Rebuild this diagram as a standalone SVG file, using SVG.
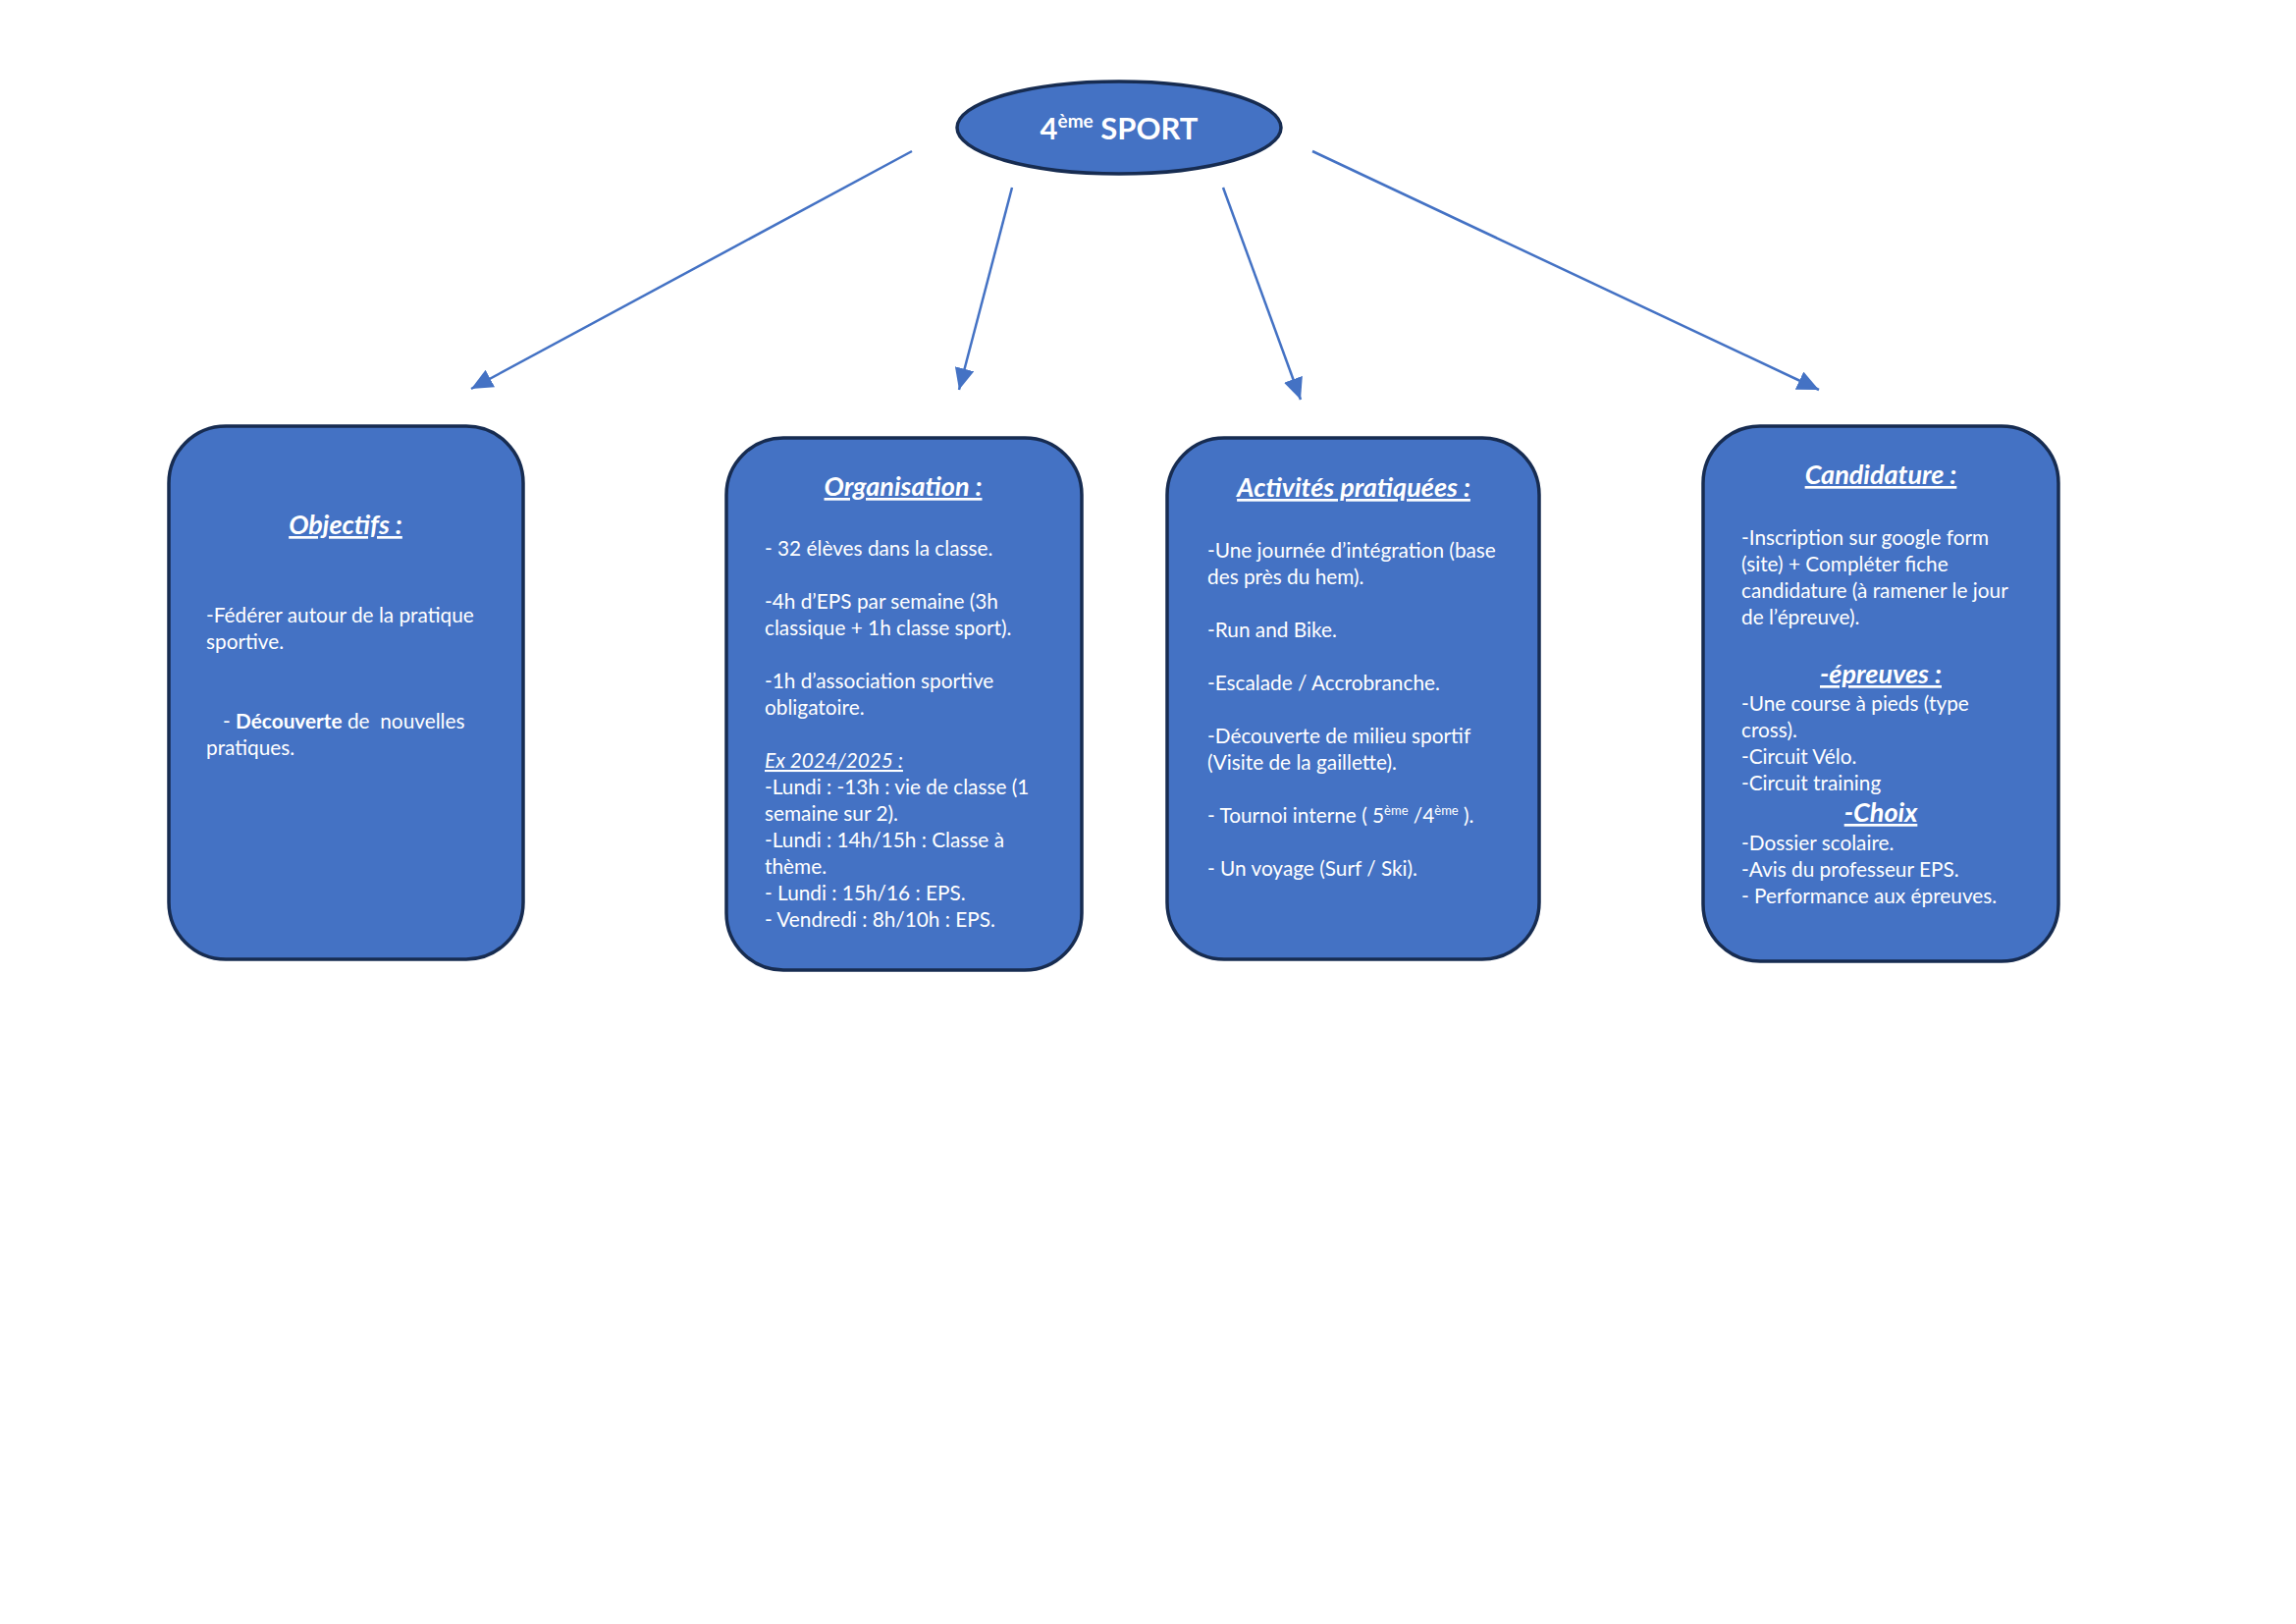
<svg xmlns="http://www.w3.org/2000/svg" width="2339" height="1654" viewBox="0 0 2339 1654">
<style>
.box{fill:#4472C4;stroke:#172C51;stroke-width:3.5}
.t{font-family:Lato,"Open Sans","Liberation Sans",sans-serif;fill:#ffffff;font-size:20.8px}
.h{font-family:Lato,"Open Sans","Liberation Sans",sans-serif;fill:#ffffff;font-size:27px;font-weight:bold;font-style:italic;text-decoration:underline;text-anchor:middle}
.c{stroke:#4472C4;stroke-width:2.5;fill:none;marker-end:url(#ah)}
</style>
<defs>
<marker id="ah" viewBox="0 0 22 20" refX="22" refY="10" markerWidth="22" markerHeight="20" markerUnits="userSpaceOnUse" orient="auto"><path d="M0,0 L22,10 L0,20 Z" fill="#4472C4"/></marker>
</defs>
<rect width="2339" height="1654" fill="#ffffff"/>
<g id="connectors">
<line class="c" x1="929" y1="154" x2="480" y2="396"/>
<line class="c" x1="1031" y1="191" x2="977" y2="397"/>
<line class="c" x1="1246" y1="191" x2="1325" y2="407"/>
<line class="c" x1="1337" y1="154" x2="1853" y2="397"/>
</g>
<g id="root">
<ellipse cx="1140" cy="130" rx="165" ry="47" fill="#4472C4" stroke="#172C51" stroke-width="3.5"/>
<text x="1140" y="142" text-anchor="middle" font-family="Lato,'Open Sans','Liberation Sans',sans-serif" font-weight="bold" font-size="31" fill="#ffffff">4<tspan font-size="19" dy="-12">ème</tspan><tspan dy="12"> SPORT</tspan></text>
</g>
<g id="objectifs">
<rect class="box" x="172" y="434" width="361" height="543" rx="58" ry="58"/>
<text class="h" x="352" y="544">Objectifs :</text>
<text class="t" x="210" y="634">-Fédérer autour de la pratique</text>
<text class="t" x="210" y="661">sportive.</text>
<text class="t" x="227" y="742" xml:space="preserve">- <tspan font-weight="bold">Découverte</tspan> de  nouvelles</text>
<text class="t" x="210" y="769">pratiques.</text>
</g>
<g id="organisation">
<rect class="box" x="740" y="446" width="362" height="542" rx="58" ry="58"/>
<text class="h" x="920" y="505">Organisation :</text>
<text class="t" x="779" y="566">- 32 élèves dans la classe.</text>
<text class="t" x="779" y="620">-4h d’EPS par semaine (3h</text>
<text class="t" x="779" y="647">classique + 1h classe sport).</text>
<text class="t" x="779" y="701">-1h d’association sportive</text>
<text class="t" x="779" y="728">obligatoire.</text>
<text class="t" x="779" y="782" font-style="italic" text-decoration="underline">Ex 2024/2025 :</text>
<text class="t" x="779" y="809">-Lundi : -13h : vie de classe (1</text>
<text class="t" x="779" y="836">semaine sur 2).</text>
<text class="t" x="779" y="863">-Lundi : 14h/15h : Classe à</text>
<text class="t" x="779" y="890">thème.</text>
<text class="t" x="779" y="917">- Lundi : 15h/16 : EPS.</text>
<text class="t" x="779" y="944">- Vendredi : 8h/10h : EPS.</text>
</g>
<g id="activites">
<rect class="box" x="1189" y="446" width="379" height="531" rx="58" ry="58"/>
<text class="h" x="1379" y="506">Activités pratiquées :</text>
<text class="t" x="1230" y="568">-Une journée d’intégration (base</text>
<text class="t" x="1230" y="595">des près du hem).</text>
<text class="t" x="1230" y="649">-Run and Bike.</text>
<text class="t" x="1230" y="703">-Escalade / Accrobranche.</text>
<text class="t" x="1230" y="757">-Découverte de milieu sportif</text>
<text class="t" x="1230" y="784">(Visite de la gaillette).</text>
<text class="t" x="1230" y="838">- Tournoi interne ( 5<tspan font-size="13" dy="-8">ème</tspan><tspan dy="8"> /4</tspan><tspan font-size="13" dy="-8">ème</tspan><tspan dy="8"> ).</tspan></text>
<text class="t" x="1230" y="892">- Un voyage (Surf / Ski).</text>
</g>
<g id="candidature">
<rect class="box" x="1735" y="434" width="362" height="545" rx="58" ry="58"/>
<text class="h" x="1916" y="493">Candidature :</text>
<text class="t" x="1774" y="555">-Inscription sur google form</text>
<text class="t" x="1774" y="582">(site) + Compléter fiche</text>
<text class="t" x="1774" y="609">candidature (à ramener le jour</text>
<text class="t" x="1774" y="636">de l’épreuve).</text>
<text class="h" x="1916" y="696">-épreuves :</text>
<text class="t" x="1774" y="724">-Une course à pieds (type</text>
<text class="t" x="1774" y="751">cross).</text>
<text class="t" x="1774" y="778">-Circuit Vélo.</text>
<text class="t" x="1774" y="805">-Circuit training</text>
<text class="h" x="1916" y="837">-Choix</text>
<text class="t" x="1774" y="866">-Dossier scolaire.</text>
<text class="t" x="1774" y="893">-Avis du professeur EPS.</text>
<text class="t" x="1774" y="920">- Performance aux épreuves.</text>
</g>
</svg>
